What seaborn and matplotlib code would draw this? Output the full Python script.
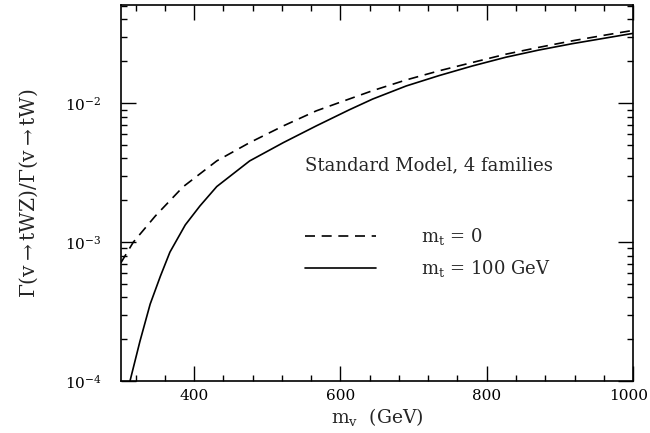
import numpy as np
import pandas as pd
import matplotlib
matplotlib.use("Agg")
import matplotlib.pyplot as plt
import matplotlib.transforms as mtransforms
from matplotlib.ticker import MultipleLocator, LogLocator, NullFormatter
import seaborn as sns

# m_t = 0 (dashed)
mass_mt0 = [300, 317, 347, 385, 431, 476, 522, 567, 603, 644, 690, 735, 780, 826, 871, 917, 962, 1000]
ratio_mt0 = [7.1e-4, 1.0e-3, 1.54e-3, 2.5e-3, 3.84e-3, 5.2e-3, 6.86e-3, 8.8e-3, 1.03e-2, 1.23e-2,
             1.47e-2, 1.71e-2, 1.96e-2, 2.25e-2, 2.52e-2, 2.81e-2, 3.09e-2, 3.34e-2]
# m_t = 100 GeV (solid)
mass_mt100 = [312, 326, 340, 354, 367, 388, 408, 431, 476, 522, 567, 612, 644, 690, 735, 780, 826, 871, 917, 962, 1000]
ratio_mt100 = [0.98e-4, 1.93e-4, 3.58e-4, 5.69e-4, 8.47e-4, 1.33e-3, 1.82e-3, 2.51e-3, 3.84e-3, 5.2e-3,
               6.86e-3, 8.95e-3, 1.07e-2, 1.33e-2, 1.58e-2, 1.85e-2, 2.14e-2, 2.41e-2, 2.68e-2, 2.94e-2, 3.18e-2]

x_ticks = [400, 600, 800, 1000]
x_ticklabels = ["400", "600", "800", "1000"]
label_mt0 = r"$\mathrm{m_t}$ = 0"
label_mt100 = r"$\mathrm{m_t}$ = 100 GeV"
title_text = "Standard Model, 4 families"

df0 = pd.DataFrame({"m": mass_mt0, "r": ratio_mt0})
df1 = pd.DataFrame({"m": mass_mt100, "r": ratio_mt100})

sns.set_style("ticks")
plt.rcParams["font.family"] = ["DejaVu Serif"]
plt.rcParams["mathtext.fontset"] = "dejavuserif"

fig = plt.figure(figsize=(6.5, 4.33), dpi=100)
ax = fig.add_axes([0.186, 0.120, 0.788, 0.868])

sns.lineplot(data=df0, x="m", y="r", ax=ax, color="black", lw=1.2, label=label_mt0)
ax.lines[-1].set_dashes((6, 4))
sns.lineplot(data=df1, x="m", y="r", ax=ax, color="black", lw=1.2, label=label_mt100)

ax.set_yscale("log")
ax.set_xlim(300, 1000)
ax.set_ylim(1e-4, 0.0507)

ax.set_xticks(x_ticks)
ax.set_xticklabels(x_ticklabels)
ax.xaxis.set_minor_locator(MultipleLocator(40))
ax.yaxis.set_major_locator(LogLocator(base=10, numticks=10))
ax.yaxis.set_minor_locator(LogLocator(base=10, subs=np.arange(2, 10), numticks=20))
ax.yaxis.set_minor_formatter(NullFormatter())

ax.tick_params(which="both", direction="in", top=True, right=True, labelsize=11, width=1.0, colors="black")
ax.tick_params(which="major", length=11)
ax.tick_params(which="minor", length=4)
ax.tick_params(axis="x", which="major", pad=6)
ax.tick_params(axis="y", which="major", pad=14)
for s in ax.spines.values():
    s.set_linewidth(1.2)
    s.set_color("black")

ax.set_xlabel(r"$\mathrm{m_v}$  (GeV)", fontsize=13.5, labelpad=2)
ax.set_ylabel(r"$\Gamma$(v$\rightarrow$tWZ)/$\Gamma$(v$\rightarrow$tW)", fontsize=14.5, labelpad=18)

ax.text(0.36, 0.574, title_text, transform=ax.transAxes, fontsize=13, va="center", ha="left")

ax.legend(loc="center left", bbox_to_anchor=(0.36, 0.342), frameon=False, fontsize=13,
          handlelength=3.9, handletextpad=2.5, borderpad=0, borderaxespad=0, labelspacing=0.6)

# nudge the "1000" tick label so it stays inside the figure
lab = ax.get_xticklabels()[-1]
lab.set_transform(lab.get_transform() + mtransforms.ScaledTranslation(-3.5 / 72, 0, fig.dpi_scale_trans))

fig.savefig("out.png", dpi=100)
